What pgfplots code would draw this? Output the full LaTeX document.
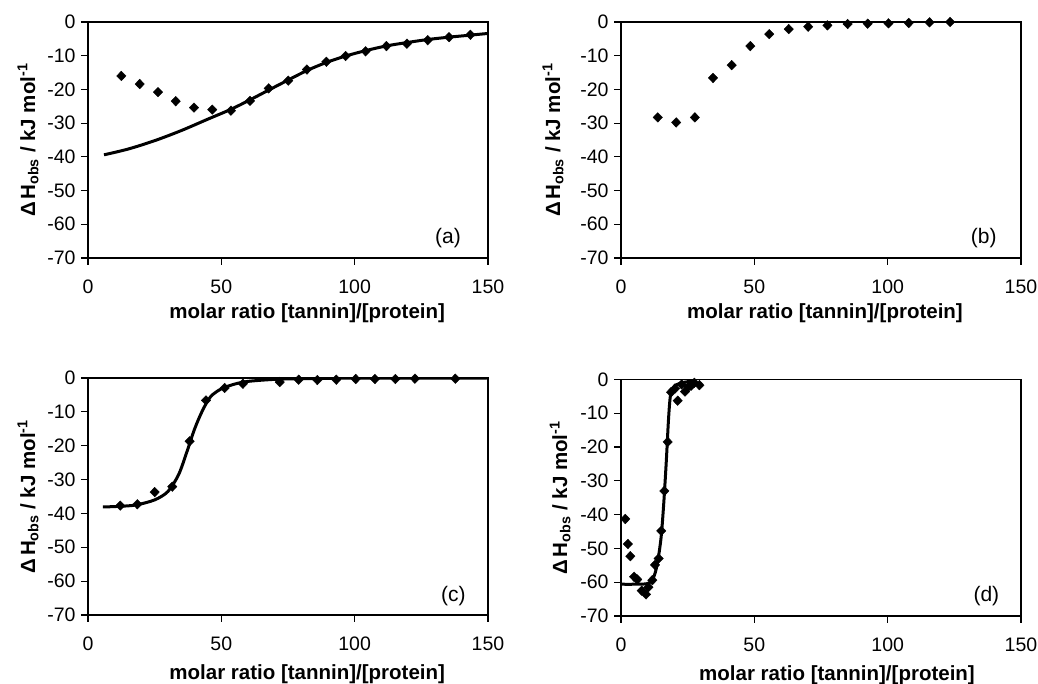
\documentclass[border=0pt]{standalone}
\usepackage{fontspec}
\setmainfont{Liberation Sans}
\usepackage{pgfplots}
\pgfplotsset{compat=1.18}

\tikzset{tag/.style={font=\fontsize{21}{23}\selectfont}}
\pgfplotsset{
  itc/.style={
    scale only axis,
    width=400pt, height=236pt,
    anchor=south west,
    xmin=0, xmax=150, ymin=-70, ymax=0,
    xtick={0,50,100,150}, xticklabels={0,50,100,150},
    ytick={-70,-60,-50,-40,-30,-20,-10,0},
    yticklabels={-70,-60,-50,-40,-30,-20,-10,0},
    tick align=outside, major tick length=7pt,
    xtick pos=bottom, ytick pos=left,
    axis line style={line width=1.4pt},
    every tick/.style={black, line width=1.2pt},
    tick label style={font=\fontsize{19.5}{21}\selectfont},
    xticklabel style={yshift=-11pt},
    yticklabel style={xshift=-2pt},
    label style={font=\fontsize{20.5}{22}\selectfont\bfseries},
    xlabel={molar ratio [tannin]/[protein]},
    ylabel={Δ\hspace{0.12em}H\textsubscript{obs} / kJ mol\textsuperscript{-1}},
    ylabel style={at={(axis description cs:-0.15,0.5)}, anchor=center},
  },
  pts/.style={only marks, mark=diamond*, mark size=4.8pt, black,
    mark options={xscale=1.3, fill=black}},
  fit/.style={black, line width=3pt, smooth, no marks},
}

\begin{document}
\begin{tikzpicture}[x=1pt,y=1pt]
\useasboundingbox (0,0) rectangle (1038,684);

% (a)
\begin{axis}[itc, at={(88pt,426pt)},
  xlabel style={at={(axis description cs:0.548,-0.236)}, anchor=center}]
\addplot[fit] coordinates {
  (6,-39.4) (15,-37.7) (25,-35.2) (35,-32.2) (45,-28.8)
  (53.6,-25.9) (60.75,-23.1) (67.75,-20.2) (75.1,-17.2) (82.1,-14.4)
  (89.4,-12.0) (96.6,-10.1) (104.1,-8.5) (111.9,-7.1) (119.6,-6.1)
  (127.4,-5.2) (135.4,-4.5) (143.4,-3.9) (150,-3.4)};
\addplot[pts] coordinates {
  (12.5,-16.0) (19.4,-18.4) (26.25,-20.8) (32.9,-23.5) (39.75,-25.4)
  (46.6,-26.0) (53.6,-26.3) (60.75,-23.4) (67.75,-19.7) (75.1,-17.4)
  (82.1,-14.1) (89.4,-11.8) (96.6,-10.1) (104.1,-8.7) (111.9,-7.15)
  (119.6,-6.45) (127.4,-5.4) (135.4,-4.5) (143.4,-3.8)};
\node[tag] at (axis cs:135,-64) {(a)};
\end{axis}

% (b)
\begin{axis}[itc, at={(621pt,426pt)},
  xlabel style={at={(axis description cs:0.51,-0.236)}, anchor=center},
  ylabel style={at={(axis description cs:-0.17,0.5)}}]
\addplot[pts] coordinates {
  (13.8,-28.3) (20.7,-29.8) (27.7,-28.3) (34.5,-16.6) (41.5,-12.8)
  (48.5,-7.15) (55.6,-3.6) (62.9,-2.1) (70.2,-1.4) (77.4,-1.0)
  (85.0,-0.6) (92.5,-0.5) (100.3,-0.4) (107.9,-0.3) (115.7,-0.1)
  (123.4,0)};
\node[tag] at (axis cs:136,-64) {(b)};
\end{axis}

% (c)
\begin{axis}[itc, at={(88pt,69pt)}, height=237pt,
  xlabel style={at={(axis description cs:0.548,-0.25)}, anchor=center}]
\addplot[fit] coordinates {
  (5.6,-38.1) (12,-37.9) (18,-37.5) (25,-36) (30,-33.5) (34,-28.5)
  (37,-22) (40,-15) (43,-9.5) (46,-5.5) (50,-3.2) (55,-1.8) (60,-1)
  (70,-0.4) (80,-0.2) (100,-0.05) (150,0)};
\addplot[pts] coordinates {
  (12.1,-37.7) (18.5,-37.3) (25,-33.7) (31.6,-32.1) (38.1,-18.7)
  (44.25,-6.6) (51.25,-2.95) (58.1,-1.7) (71.9,-1.2) (79,-0.5)
  (86,-0.6) (93.1,-0.5) (100.4,-0.3) (107.6,-0.3) (115.25,-0.3)
  (122.6,-0.2) (137.75,-0.2)};
\node[tag] at (axis cs:137,-64.5) {(c)};
\end{axis}

% (d)
\begin{axis}[itc, at={(621pt,68pt)}, height=236.6pt,
  xlabel style={at={(axis description cs:0.54,-0.25)}, anchor=center},
  ylabel style={at={(axis description cs:-0.152,0.5)}}]
\addplot[fit] coordinates {
  (0,-60.6) (5,-60.6) (10,-60.4) (12,-59) (13.5,-55) (15,-47) (16,-37)
  (17,-24) (17.8,-12) (18.5,-5) (19.5,-2.5) (21,-1.5) (24,-0.8) (28,-0.4)};
\addplot[pts] coordinates {
  (1.6,-41.3) (2.6,-48.7) (3.5,-52.3) (4.9,-58.4) (6.1,-59.2) (7.75,-62.5)
  (9.4,-63.6) (10.25,-61.5) (11.75,-59.4) (12.75,-54.9) (14.1,-53)
  (15.1,-44.8) (16.25,-33) (17.5,-18.5) (18.75,-3.8) (20.25,-2.7)
  (21.25,-6.3) (22.75,-1.5) (24,-3.6) (25.25,-2.2) (26.25,-1.9)
  (27.5,-1) (29.4,-1.7)};
\node[tag] at (axis cs:137,-64) {(d)};
\end{axis}
\end{tikzpicture}
\end{document}
